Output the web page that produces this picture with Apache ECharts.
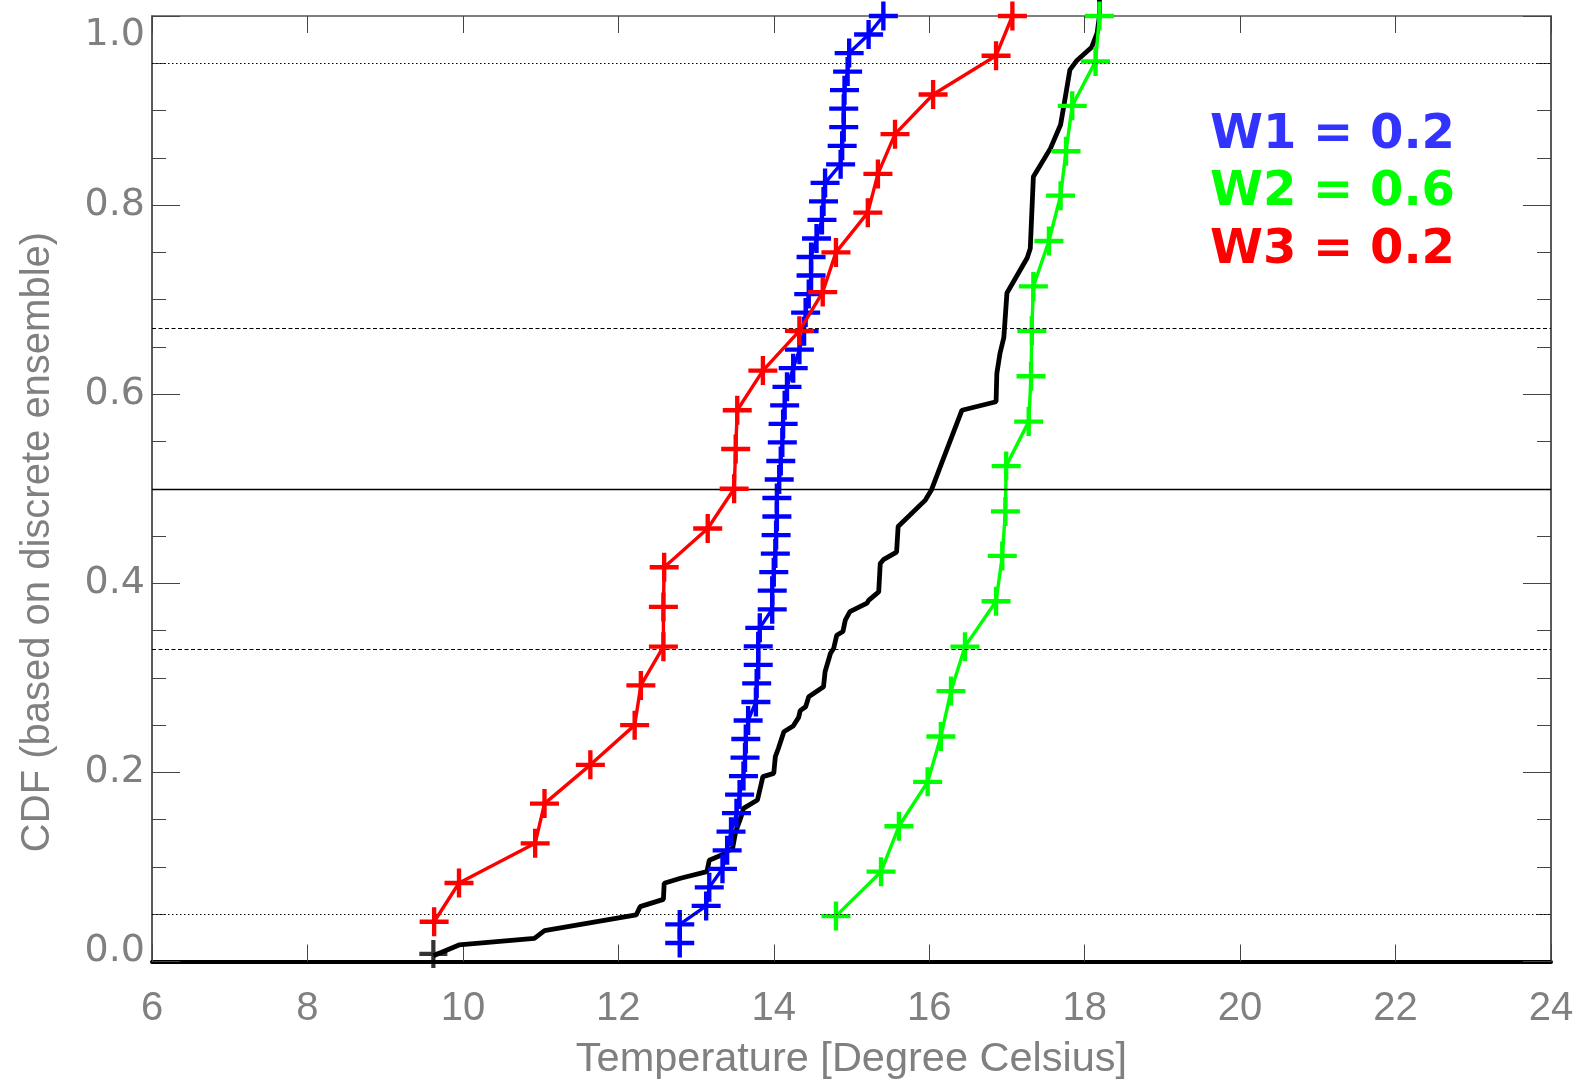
<!DOCTYPE html>
<html>
<head>
<meta charset="utf-8">
<script src="https://cdn.jsdelivr.net/npm/echarts@6/dist/echarts.min.js"></script>
<style>
  html, body { margin: 0; padding: 0; background: #ffffff; }
  #chart { width: 1582px; height: 1081px; }
</style>
</head>
<body>
<div id="chart"></div>
<script>
// Ensemble member temperatures (sorted) and their empirical CDF levels
const w3Temps = [9.63, 9.95, 10.93, 11.05, 11.64, 12.21, 12.29, 12.58, 12.58, 12.59, 13.15, 13.49,
                 13.51, 13.53, 13.86, 14.33, 14.63, 14.80, 15.21, 15.34, 15.56, 16.05, 16.86, 17.07];
const w3Cdf = [0.042, 0.083, 0.125, 0.167, 0.208, 0.250, 0.292, 0.333, 0.375, 0.417, 0.458, 0.500,
               0.542, 0.583, 0.625, 0.667, 0.708, 0.750, 0.792, 0.833, 0.875, 0.917, 0.958, 1.000];

const w2Temps = [14.80, 15.38, 15.61, 15.98, 16.15, 16.28, 16.46, 16.86, 16.94, 16.98, 16.99,
                 17.28, 17.31, 17.32, 17.34, 17.54, 17.69, 17.76, 17.84, 18.14, 18.19];
const w2Cdf = [0.048, 0.095, 0.143, 0.190, 0.238, 0.286, 0.333, 0.381, 0.429, 0.476, 0.524,
               0.571, 0.619, 0.667, 0.714, 0.762, 0.810, 0.857, 0.905, 0.952, 1.000];

const w1Temps = [12.79, 12.79, 13.13, 13.17, 13.34, 13.40, 13.45, 13.52, 13.56, 13.61, 13.63, 13.64,
                 13.67, 13.77, 13.78, 13.80, 13.80, 13.82, 13.98, 13.98, 14.00, 14.02, 14.03, 14.04,
                 14.04, 14.07, 14.09, 14.11, 14.12, 14.14, 14.17, 14.25, 14.33, 14.39, 14.41, 14.45,
                 14.48, 14.48, 14.55, 14.62, 14.64, 14.66, 14.86, 14.88, 14.90, 14.90, 14.91, 14.95,
                 14.97, 15.22, 15.41];
const w1Cdf = [0.0196, 0.0392, 0.0588, 0.0784, 0.0980, 0.1176, 0.1373, 0.1569, 0.1765, 0.1961, 0.2157,
               0.2353, 0.2549, 0.2745, 0.2941, 0.3137, 0.3333, 0.3529, 0.3725, 0.3922, 0.4118, 0.4314,
               0.4510, 0.4706, 0.4902, 0.5098, 0.5294, 0.5490, 0.5686, 0.5882, 0.6078, 0.6275, 0.6471,
               0.6667, 0.6863, 0.7059, 0.7255, 0.7451, 0.7647, 0.7843, 0.8039, 0.8235, 0.8431, 0.8627,
               0.8824, 0.9020, 0.9216, 0.9412, 0.9608, 0.9804, 1.0000];

// Weighted combination of the three ensembles
const mixTemps = [9.62, 9.95, 10.92, 11.05, 12.23, 12.28, 12.58, 12.59, 12.80, 13.14, 13.17, 13.33,
                  13.47, 13.51, 13.58, 13.61, 13.79, 13.83, 13.86, 14.00, 14.02, 14.06, 14.13, 14.25,
                  14.32, 14.34, 14.41, 14.45, 14.64, 14.66, 14.73, 14.77, 14.81, 14.89, 14.92, 14.98,
                  15.20, 15.22, 15.35, 15.37, 15.41, 15.58, 15.60, 15.95, 16.03, 16.16, 16.42, 16.86,
                  16.87, 16.91, 16.96, 17.00, 17.26, 17.30, 17.34, 17.56, 17.69, 17.73, 17.81, 17.90,
                  18.09, 18.16, 18.19, 18.19];
const mixCdf = [0.006, 0.0175, 0.0245, 0.0326, 0.0492, 0.058, 0.0657, 0.0827, 0.088, 0.095, 0.107, 0.1126,
                0.1197, 0.1373, 0.1532, 0.162, 0.1708, 0.1849, 0.1955, 0.199, 0.2166, 0.2255, 0.243, 0.249,
                0.2582, 0.2653, 0.2695, 0.28, 0.2906, 0.3065, 0.326, 0.331, 0.345, 0.349, 0.361, 0.370,
                0.379, 0.382, 0.391, 0.421, 0.425, 0.433, 0.460, 0.488, 0.499, 0.527, 0.583, 0.592,
                0.622, 0.643, 0.660, 0.707, 0.744, 0.754, 0.830, 0.860, 0.885, 0.904, 0.943, 0.953,
                0.967, 0.982, 1.000, 1.017];
const mixStart = [[9.62, 0.008]];

// Axis ticks
const xTicks = { min: 6, max: 24, step: 2 };
const yTicks = { min: 0, max: 1, step: 0.2 };

// Reference probability levels
const refDotted = [0.05, 0.95];
const refDashed = [1 / 3, 2 / 3];
const refSolid = [0.5];

// Weight annotations
const weightLabels = ['W1 = 0.2', 'W2 = 0.6', 'W3 = 0.2'];
const weightColors = ['#3333ff', '#00ff00', '#ff0000'];

const pairs = (xs, ys) => xs.map((x, i) => [x, ys[i]]);

// "+" marker drawn as a filled cross
const plus = 'path://M-2.1,-14L2.1,-14L2.1,-2.1L14,-2.1L14,2.1L2.1,2.1L2.1,14L-2.1,14L-2.1,2.1L-14,2.1L-14,-2.1L-2.1,-2.1Z';

const grey = '#808080';
const frame = '#222222';

function memberSeries(name, temps, cdf, color, z) {
  return {
    name, type: 'line', data: pairs(temps, cdf),
    symbol: plus, symbolSize: 29, showSymbol: true, showAllSymbol: true,
    itemStyle: { color, borderWidth: 0 },
    lineStyle: { color, width: 3.4 },
    z, clip: false, silent: true, emphasis: { disabled: true }
  };
}

const refData = []
  .concat(refDotted.map(v => ({ yAxis: v, lineStyle: { type: [1.5, 2.5], width: 1.2 } })))
  .concat(refDashed.map(v => ({ yAxis: v, lineStyle: { type: [4, 2.5], width: 1.2 } })))
  .concat(refSolid.map(v => ({ yAxis: v, lineStyle: { type: 'solid', width: 1.3 } })));

const yAxisBase = {
  type: 'value', min: yTicks.min, max: yTicks.max, interval: yTicks.step,
  axisLine: { show: true, onZero: false, lineStyle: { color: frame, width: 1.5 } },
  axisTick: { show: true, inside: true, length: 28, lineStyle: { color: '#444', width: 1 } },
  minorTick: { show: true, splitNumber: 4, length: 14, lineStyle: { color: '#444', width: 1 } },
  splitLine: { show: false }, minorSplitLine: { show: false }
};

const option = {
  animation: false,
  backgroundColor: '#ffffff',
  grid: { left: 152, right: 31, top: 16, bottom: 119.5, containLabel: false, outerBoundsMode: 'none' },
  xAxis: [
    {
      type: 'value', position: 'bottom', min: xTicks.min, max: xTicks.max, interval: xTicks.step,
      axisLine: { show: true, onZero: false, lineStyle: { color: '#000', width: 4 } },
      axisTick: { show: true, inside: true, length: 17, lineStyle: { color: '#444', width: 1 } },
      axisLabel: {
        show: true, margin: 27, color: grey, fontSize: 40,
        fontFamily: '"Liberation Sans Narrow", "Liberation Sans", Arial, sans-serif',
        showMinLabel: true, showMaxLabel: true, hideOverlap: false
      },
      splitLine: { show: false },
      name: 'Temperature [Degree Celsius]', nameLocation: 'middle', nameGap: 77,
      nameTextStyle: { color: grey, fontSize: 41.5, fontFamily: '"Liberation Sans", Arial, sans-serif' }
    },
    {
      type: 'value', position: 'top', min: xTicks.min, max: xTicks.max, interval: xTicks.step,
      axisLine: { show: true, onZero: false, lineStyle: { color: '#555', width: 1.5 } },
      axisTick: { show: true, inside: true, length: 17, lineStyle: { color: '#444', width: 1 } },
      axisLabel: { show: false }, splitLine: { show: false }
    }
  ],
  yAxis: [
    Object.assign({}, yAxisBase, {
      position: 'left',
      axisLabel: {
        show: true, margin: 7, color: grey, fontSize: 38,
        fontFamily: '"DejaVu Sans", sans-serif',
        formatter: v => (v === yTicks.min ? '{low|' + v.toFixed(1) + '}' : v.toFixed(1)),
        rich: { low: { color: grey, fontSize: 38, fontFamily: '"DejaVu Sans", sans-serif', lineHeight: 20 } },
        showMinLabel: true, showMaxLabel: true,
        verticalAlignMinLabel: 'bottom', verticalAlignMaxLabel: 'top'
      }
    }),
    Object.assign({}, yAxisBase, { position: 'right', axisLabel: { show: false } })
  ],
  graphic: [
    {
      type: 'text', x: 38, y: 542, rotation: Math.PI / 2, silent: true,
      style: {
        text: 'CDF (based on discrete ensemble)', fill: grey,
        font: '40px "Liberation Sans", Arial, sans-serif', align: 'center', verticalAlign: 'middle'
      }
    }
  ].concat(weightLabels.map((t, i) => ({
    type: 'text', x: 1210, y: 135.5 + i * 57.3, silent: true, z: 10,
    style: {
      text: t, fill: weightColors[i],
      font: 'bold 48px "DejaVu Sans", sans-serif', align: 'left', verticalAlign: 'middle'
    }
  }))),
  series: [
    {
      name: 'levels', type: 'line', data: [], z: 1, silent: true,
      markLine: {
        silent: true, symbol: ['none', 'none'], label: { show: false },
        lineStyle: { color: '#000' }, emphasis: { disabled: true },
        data: refData
      }
    },
    {
      name: 'combined', type: 'line', data: pairs(mixTemps, mixCdf),
      showSymbol: false, lineStyle: { color: '#000', width: 4.8 },
      z: 2, clip: false, silent: true, emphasis: { disabled: true }
    },
    {
      name: 'combined start', type: 'scatter', data: mixStart,
      symbol: plus, symbolSize: 28, itemStyle: { color: '#000' },
      z: 2, silent: true, emphasis: { disabled: true }
    },
    memberSeries('W1', w1Temps, w1Cdf, '#0000ff', 3),
    memberSeries('W2', w2Temps, w2Cdf, '#00ff00', 4),
    memberSeries('W3', w3Temps, w3Cdf, '#ff0000', 5)
  ]
};

const chart = echarts.init(document.getElementById('chart'), null, { renderer: 'canvas' });
chart.setOption(option);
</script>
</body>
</html>
